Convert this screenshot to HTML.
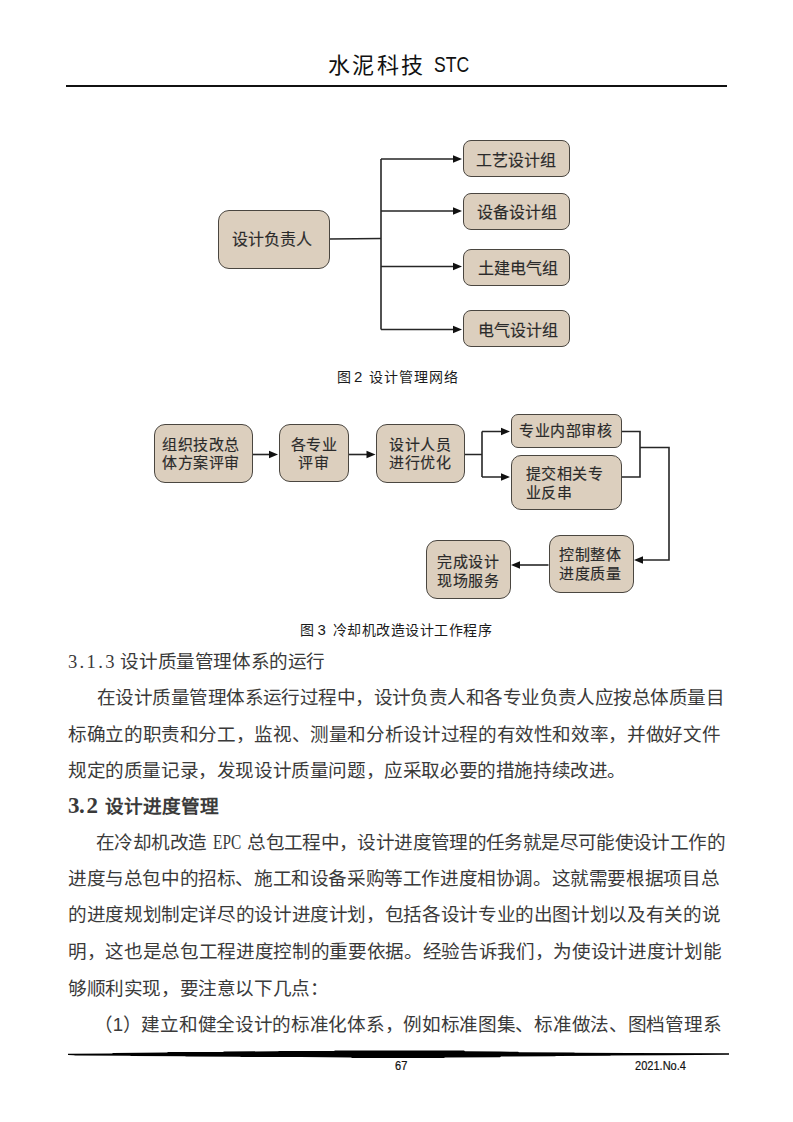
<!DOCTYPE html>
<html lang="zh-CN">
<head>
<meta charset="utf-8">
<style>
html,body{margin:0;padding:0;background:#fff;}
body{width:793px;height:1122px;position:relative;overflow:hidden;font-family:"Liberation Serif",serif;color:#1a1a1a;}
.abs{position:absolute;white-space:nowrap;}
.hdr{top:51.5px;left:328px;font-size:22px;line-height:28px;letter-spacing:2.4px;color:#111;}
.stc{top:50.5px;left:434px;font-family:"Liberation Sans",sans-serif;font-size:22px;line-height:28px;transform:scaleX(0.8);transform-origin:0 0;color:#111;}
.box{position:absolute;box-sizing:border-box;background:#dccfbe;border:1.8px solid #4a4640;border-radius:9px;}
.bt{position:absolute;white-space:nowrap;font-family:"Liberation Sans",sans-serif;color:#2a2a2a;font-weight:normal;-webkit-text-stroke:0.15px #2a2a2a;}
.b16{font-size:16px;line-height:18px;letter-spacing:0;}
.b15{font-size:15px;line-height:18.5px;letter-spacing:0.6px;}
.cap{position:absolute;white-space:nowrap;font-family:"Liberation Sans",sans-serif;font-size:14px;line-height:18px;color:#1a1a1a;}
.num{font-size:15px;}
.ln{position:absolute;font-weight:normal;font-size:18.6px;letter-spacing:-0.4px;line-height:22px;color:#3a3a3a;white-space:nowrap;}
.jl{white-space:normal;text-align:justify;text-align-last:justify;letter-spacing:-1.5px;}
.hw{display:inline-block;width:9.3px;text-align:center;letter-spacing:0;}
.epc{display:inline-block;width:40px;padding-left:7px;box-sizing:border-box;letter-spacing:0;font-size:20.5px;line-height:10px;}
.epc span{display:inline-block;transform:scaleX(0.75);transform-origin:0 0;}
.ft{position:absolute;white-space:nowrap;font-family:"Liberation Sans",sans-serif;font-size:12px;letter-spacing:0;line-height:14px;color:#111;transform:scaleX(0.92);transform-origin:0 0;-webkit-text-stroke:0.2px #111;}
</style>
</head>
<body>
<div class="abs hdr">水泥科技</div>
<div class="abs stc">STC</div>
<div class="abs" style="left:66px;top:85px;width:661px;height:2px;background:#111;"></div>

<!-- Figure 2 -->
<svg class="abs" style="left:0;top:0" width="793" height="1122" viewBox="0 0 793 1122">
  <g stroke="#262626" stroke-width="1.6" fill="none">
    <path d="M329 239 L381 238.5"/>
    <path d="M381 159 L381 329.5"/>
    <path d="M381 159 H455 M381 211 H455 M381 266.5 H455 M381 329.5 H455"/>
  </g>
  <g fill="#111">
    <path d="M462 159.0 L453 155.25 L453 162.75 Z"/>
    <path d="M462 211.0 L453 207.25 L453 214.75 Z"/>
    <path d="M462 266.5 L453 262.75 L453 270.25 Z"/>
    <path d="M462 329.5 L453 325.75 L453 333.25 Z"/>
  </g>
</svg>
<div class="box" style="left:218px;top:210px;width:112px;height:59px;border-radius:11px;"></div>
<div class="bt b16" style="left:232px;top:230.5px;">设计负责人</div>
<div class="box" style="left:463px;top:139.5px;width:107px;height:37px;border-radius:8px;"></div>
<div class="bt b16" style="left:476px;top:151.5px;">工艺设计组</div>
<div class="box" style="left:463px;top:192.5px;width:107px;height:37px;border-radius:8px;"></div>
<div class="bt b16" style="left:477px;top:203.5px;">设备设计组</div>
<div class="box" style="left:463px;top:248.5px;width:107px;height:37px;border-radius:8px;"></div>
<div class="bt b16" style="left:477.5px;top:259.5px;">土建电气组</div>
<div class="box" style="left:463px;top:310px;width:107px;height:37px;border-radius:8px;"></div>
<div class="bt b16" style="left:478px;top:321.5px;">电气设计组</div>
<div class="cap" style="left:336.5px;top:368px;">图</div>
<div class="cap num" style="left:354px;top:368px;">2</div>
<div class="cap" style="left:369px;top:368px;letter-spacing:1px;">设计管理网络</div>

<!-- Figure 3 -->
<svg class="abs" style="left:0;top:0" width="793" height="1122" viewBox="0 0 793 1122">
  <g stroke="#262626" stroke-width="1.6" fill="none">
    <path d="M252 454.5 H271"/>
    <path d="M348.5 454.5 H368"/>
    <path d="M464 454.5 H482 M482 431.5 V477 M482 431.5 H502 M482 477 H502"/>
    <path d="M621 431.5 H640 V477 H621 M640 447.5 H669 V560 H642"/>
    <path d="M548.5 565 H519"/>
  </g>
  <g fill="#111">
    <path d="M278 454.5 L269 450.75 L269 458.25 Z"/>
    <path d="M375.5 454.5 L366.5 450.75 L366.5 458.25 Z"/>
    <path d="M510 431.5 L501 427.75 L501 435.25 Z"/>
    <path d="M510 477.0 L501 473.25 L501 480.75 Z"/>
    <path d="M634 560.0 L643 556.25 L643 563.75 Z"/>
    <path d="M511 565.0 L520 561.25 L520 568.75 Z"/>
  </g>
</svg>
<div class="box" style="left:154px;top:423.5px;width:98.5px;height:59px;border-radius:11px;"></div>
<div class="bt b15" style="left:162px;top:435.5px;">组织技改总<br>体方案评审</div>
<div class="box" style="left:279px;top:423.5px;width:70px;height:58.5px;border-radius:11px;"></div>
<div class="bt b15" style="left:290.5px;top:435.5px;text-align:center;">各专业<br>评审</div>
<div class="box" style="left:375.5px;top:423.5px;width:89px;height:59px;border-radius:11px;"></div>
<div class="bt b15" style="left:389px;top:435.5px;">设计人员<br>进行优化</div>
<div class="box" style="left:510.5px;top:414px;width:111px;height:34px;border-radius:7px;"></div>
<div class="bt b15" style="left:519px;top:422px;">专业内部审核</div>
<div class="box" style="left:510.5px;top:454.5px;width:111px;height:55.5px;border-radius:10px;"></div>
<div class="bt b15" style="left:525.5px;top:465px;">提交相关专<br>业反串</div>
<div class="box" style="left:548.5px;top:535px;width:85.5px;height:58px;border-radius:11px;"></div>
<div class="bt b15" style="left:559px;top:546px;">控制整体<br>进度质量</div>
<div class="box" style="left:426px;top:540px;width:85px;height:58.5px;border-radius:11px;"></div>
<div class="bt b15" style="left:437px;top:553px;">完成设计<br>现场服务</div>
<div class="cap" style="left:299.5px;top:621px;">图</div>
<div class="cap num" style="left:317.5px;top:621px;">3</div>
<div class="cap" style="left:332.5px;top:621px;letter-spacing:0.5px;">冷却机改造设计工作程序</div>

<!-- Body text -->
<div class="ln" style="top:651px;left:68px;"><span class="hw">3</span><span class="hw">.</span><span class="hw">1</span><span class="hw">.</span><span class="hw">3</span><span class="hw" style="width:6px"> </span>设计质量管理体系的运行</div>
<div class="ln jl" style="top:686.7px;left:97px;width:626px;">在设计质量管理体系运行过程中，设计负责人和各专业负责人应按总体质量目</div>
<div class="ln jl" style="top:723.6px;left:68px;width:651px;">标确立的职责和分工，监视、测量和分析设计过程的有效性和效率，并做好文件</div>
<div class="ln" style="top:760.2px;left:68px;">规定的质量记录，发现设计质量问题，应采取必要的措施持续改进。</div>
<div class="ln" style="top:796.2px;left:68px;font-weight:bold;letter-spacing:0;"><span class="hw" style="font-size:23px;line-height:10px">3</span><span class="hw" style="font-size:23px;line-height:10px">.</span><span class="hw" style="font-size:23px;line-height:10px">2</span><span class="hw"> </span>设计进度管理</div>
<div class="ln jl" style="top:832px;left:96px;width:628px;">在冷却机改造<span class="epc"><span>EPC</span></span>总包工程中，设计进度管理的任务就是尽可能使设计工作的</div>
<div class="ln jl" style="top:868px;left:68px;width:650px;">进度与总包中的招标、施工和设备采购等工作进度相协调。这就需要根据项目总</div>
<div class="ln jl" style="top:904.4px;left:68px;width:651px;">的进度规划制定详尽的设计进度计划，包括各设计专业的出图计划以及有关的说</div>
<div class="ln jl" style="top:940.6px;left:68px;width:652px;">明，这也是总包工程进度控制的重要依据。经验告诉我们，为使设计进度计划能</div>
<div class="ln" style="top:977.6px;left:68px;">够顺利实现，要注意以下几点：</div>
<div class="ln jl" style="top:1013.8px;left:94px;width:626px;">（<span style="font-family:'Liberation Sans',sans-serif">1</span>）建立和健全设计的标准化体系，例如标准图集、标准做法、图档管理系</div>
<!-- Footer -->
<svg class="abs" style="left:0;top:0" width="793" height="1122" viewBox="0 0 793 1122">
  <path fill="#000" d="M68 1053.7 L112 1053.4 L113 1052.9 L167 1052.6 L168 1052.1 L223 1051.9 L224 1051.6 L278 1051.2 L279 1050.9 L334 1050.9 L335 1050.5 L464 1050.5 L465 1051.2 L500 1051.6 L518 1051.8 L519 1052.3 L574 1052.5 L575 1052.8 L629 1052.9 L630 1053.1 L729 1053.3 L729 1054.7 L666 1055.2 L611 1055.5 L610 1055.8 L556 1056 L555 1056.3 L501 1056.5 L500 1057.2 L445 1057.5 L444 1057.9 L352 1057.9 L351 1057.4 L300 1057.1 L241 1057 L240 1056.8 L186 1056.6 L185 1056.2 L131 1056 L130 1055.7 L75 1055.5 L74 1055.2 L68 1055.1 Z"/>
</svg>
<div class="ft" style="left:395px;top:1059px;">67</div>
<div class="ft" style="left:635px;top:1059px;">2021.No.4</div>


</body>
</html>
